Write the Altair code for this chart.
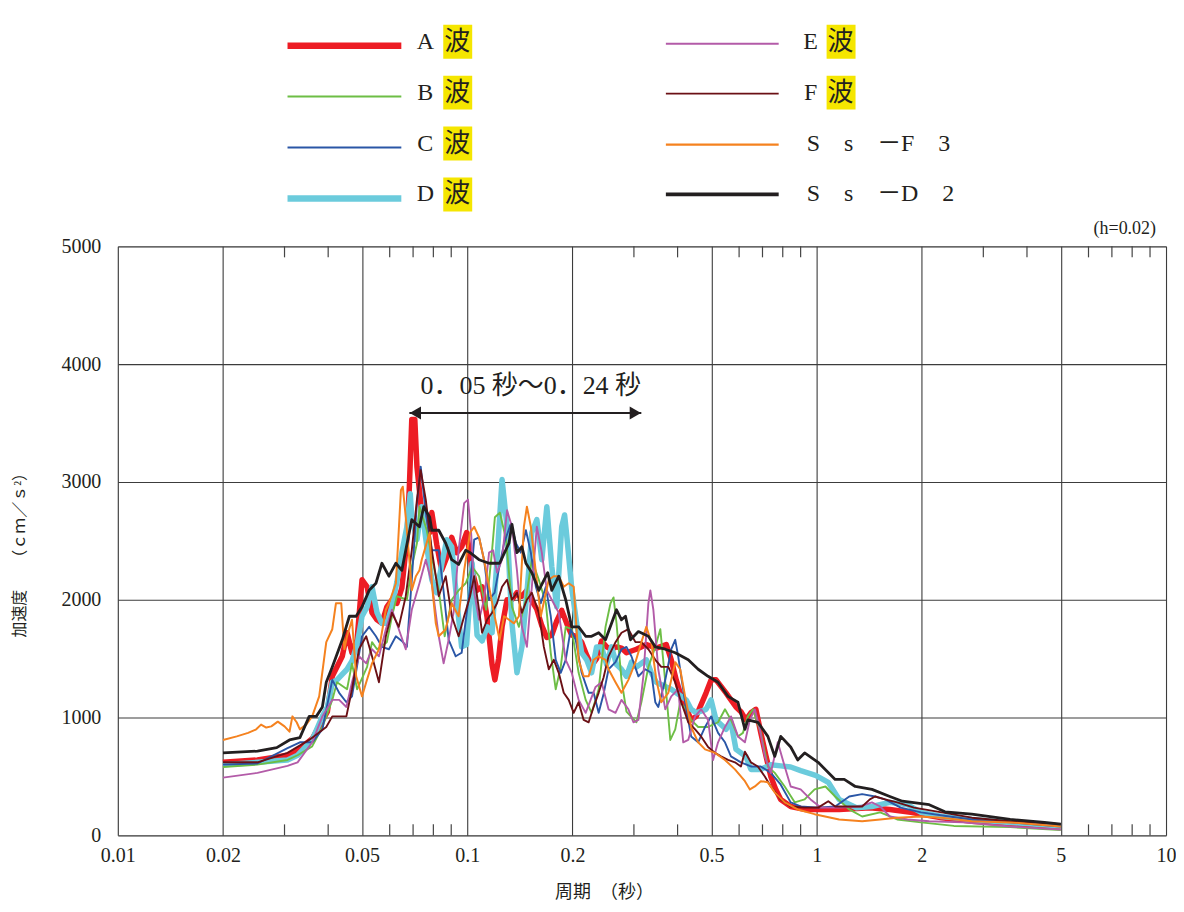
import altair as alt
import pandas as pd

# ---------------- data: (period [s], acceleration [cm/s^2]) ----------------
A_WAVE = [(0.0200,620),(0.0251,640),(0.0306,680),(0.0327,720),(0.0360,820),(0.0398,1050),(0.0411,1350),(0.0439,1520),(0.0453,1720),(0.0468,1550),(0.0484,1660),(0.0500,2170),(0.0517,2110),(0.0534,1890),(0.0552,1830),(0.0570,1800),(0.0589,1940),(0.0609,2000),(0.0629,1970),(0.0650,2100),(0.0672,2510),(0.0683,2960),(0.0694,3530),(0.0708,3530),(0.0718,3130),(0.0741,2740),(0.0766,2620),(0.0781,2570),(0.0792,2740),(0.0818,2470),(0.0845,2250),(0.0874,2360),(0.0903,2530),(0.0933,2400),(0.0964,2450),(0.0996,2570),(0.1033,2250),(0.1067,2080),(0.1103,2110),(0.1140,1850),(0.1178,1450),(0.1200,1320),(0.1230,1500),(0.1258,1770),(0.1300,2000),(0.1343,2000),(0.1388,2060),(0.1434,2030),(0.1482,2080),(0.1531,1990),(0.1582,1920),(0.1635,1780),(0.1690,1680),(0.1746,1700),(0.1804,1820),(0.1864,1910),(0.1926,1800),(0.1991,1700),(0.2057,1690),(0.2126,1640),(0.2197,1530),(0.2270,1440),(0.2346,1500),(0.2424,1650),(0.2505,1600),(0.2588,1580),(0.2675,1600),(0.2764,1590),(0.2856,1550),(0.3050,1580),(0.3256,1620),(0.3477,1590),(0.3713,1620),(0.3837,1490),(0.3964,1320),(0.4097,1180),(0.4374,980),(0.4520,1010),(0.4827,1210),(0.4988,1320),(0.5154,1320),(0.5504,1210),(0.5687,1150),(0.5877,1090),(0.6073,1050),(0.6275,980),(0.6485,1040),(0.6701,1070),(0.6924,870),(0.7155,680),(0.7394,500),(0.7640,390),(0.7895,305),(0.8430,245),(0.9302,220),(1.01,220),(1.16,220),(1.42,235),(1.62,220),(1.86,195),(2.28,150),(2.79,120),(3.66,95),(5.0,70)]

B_WAVE = [(0.0200,580),(0.0251,600),(0.0306,640),(0.0327,680),(0.0360,755),(0.0385,920),(0.0411,1150),(0.0424,1300),(0.0453,1240),(0.0468,1460),(0.0484,1240),(0.0517,1430),(0.0534,1640),(0.0552,1580),(0.0589,1640),(0.0609,1860),(0.0629,2030),(0.0672,2000),(0.0694,2280),(0.0718,2480),(0.0730,2790),(0.0766,2590),(0.0792,2360),(0.0829,2080),(0.0862,1690),(0.0903,2000),(0.0945,2080),(0.0990,2140),(0.1033,2280),(0.1081,2200),(0.1133,1915),(0.1178,2420),(0.1200,2700),(0.1240,2740),(0.1292,2510),(0.1343,1940),(0.1406,1770),(0.1472,2000),(0.1531,2340),(0.1603,2170),(0.1679,1970),(0.1734,1550),(0.1792,1240),(0.1852,1430),(0.1914,1770),(0.1991,1750),(0.2084,1380),(0.2183,1150),(0.2270,1040),(0.2378,1240),(0.2488,1770),(0.2571,1970),(0.2623,2020),(0.2675,1800),(0.2764,1320),(0.2856,1050),(0.3050,960),(0.3151,1130),(0.3300,1430),(0.3454,1600),(0.3570,1750),(0.3689,1300),(0.3813,810),(0.3939,900),(0.4070,1130),(0.4233,1070),(0.4374,980),(0.4581,920),(0.4891,920),(0.5223,960),(0.5467,1070),(0.5687,980),(0.5955,840),(0.6154,870),(0.6359,1010),(0.6572,1070),(0.6924,870),(0.7252,585),(0.7590,530),(0.8103,415),(0.8654,280),(0.9241,305),(0.9869,390),(1.06,415),(1.13,330),(1.24,220),(1.35,160),(1.52,195),(1.70,135),(1.99,110),(2.47,80),(3.58,70),(5.0,45)]

C_WAVE = [(0.0200,600),(0.0251,610),(0.0306,740),(0.0332,790),(0.0360,790),(0.0385,900),(0.0411,1320),(0.0430,1210),(0.0451,1130),(0.0468,1180),(0.0500,1690),(0.0524,1770),(0.0548,1690),(0.0570,1600),(0.0597,1580),(0.0625,1690),(0.0650,1650),(0.0672,1600),(0.0694,2170),(0.0718,2820),(0.0736,3130),(0.0761,2740),(0.0792,2420),(0.0829,2420),(0.0856,2070),(0.0885,1660),(0.0927,1520),(0.0964,1550),(0.0980,1720),(0.1019,2100),(0.1047,2510),(0.1081,2530),(0.1117,2340),(0.1155,2000),(0.1198,2060),(0.1230,2250),(0.1275,2480),(0.1334,2650),(0.1379,2480),(0.1424,2400),(0.1472,2590),(0.1521,2400),(0.1572,2110),(0.1624,1970),(0.1679,2110),(0.1734,1860),(0.1792,1490),(0.1852,1380),(0.1914,1490),(0.1978,1750),(0.2044,1660),(0.2126,1380),(0.2226,1210),(0.2300,1210),(0.2378,1040),(0.2456,1200),(0.2538,1410),(0.2657,1470),(0.2764,1580),(0.2856,1600),(0.2951,1520),(0.3090,1350),(0.3234,1410),(0.3365,1380),(0.3454,1130),(0.3522,1090),(0.3689,1320),(0.3837,1580),(0.3939,1660),(0.4016,1520),(0.4204,1130),(0.4374,840),(0.4581,790),(0.4795,920),(0.4988,1010),(0.5223,870),(0.5467,790),(0.5687,670),(0.6073,620),(0.6485,585),(0.6924,585),(0.7394,530),(0.7895,430),(0.8430,280),(0.9002,245),(1.01,235),(1.13,245),(1.24,330),(1.35,350),(1.47,330),(1.57,305),(1.74,235),(1.99,195),(2.40,160),(2.78,135),(3.58,110),(5.0,75)]

D_WAVE = [(0.0200,600),(0.0251,620),(0.0306,640),(0.0327,680),(0.0360,810),(0.0385,1010),(0.0398,1090),(0.0411,1300),(0.0424,1320),(0.0453,1410),(0.0468,1480),(0.0484,1620),(0.0500,1860),(0.0517,1940),(0.0534,2110),(0.0552,1890),(0.0570,1800),(0.0589,1800),(0.0609,1940),(0.0629,2150),(0.0650,2400),(0.0672,2620),(0.0687,2900),(0.0694,2700),(0.0718,2510),(0.0741,2790),(0.0766,2450),(0.0792,2170),(0.0818,2060),(0.0845,2300),(0.0874,2510),(0.0903,2450),(0.0933,2000),(0.0964,1600),(0.0996,1620),(0.1033,2310),(0.1067,1700),(0.1103,1650),(0.1140,1770),(0.1178,1720),(0.1217,2340),(0.1258,3020),(0.1300,2620),(0.1343,1800),(0.1388,1380),(0.1434,1600),(0.1482,2060),(0.1531,2570),(0.1582,2680),(0.1635,2340),(0.1690,2790),(0.1746,2280),(0.1804,1940),(0.1864,2620),(0.1900,2720),(0.1926,2550),(0.1991,2100),(0.2057,1800),(0.2126,1550),(0.2197,1490),(0.2270,1380),(0.2346,1600),(0.2424,1600),(0.2505,1450),(0.2588,1600),(0.2675,1450),(0.2764,1410),(0.2856,1350),(0.2951,1470),(0.3050,1430),(0.3256,1490),(0.3365,1380),(0.3477,1300),(0.3713,1260),(0.3837,1240),(0.3964,1210),(0.4233,1150),(0.4374,1070),(0.4520,1040),(0.4827,1070),(0.4988,1150),(0.5154,980),(0.5504,900),(0.5687,960),(0.5877,730),(0.6275,670),(0.6485,560),(0.6924,560),(0.7394,600),(0.7895,590),(0.8430,580),(0.9002,550),(0.9933,510),(1.08,450),(1.16,305),(1.30,235),(1.44,245),(1.62,280),(1.82,260),(1.99,195),(2.28,160),(2.79,135),(3.58,110),(5.0,80)]

E_WAVE = [(0.0200,490),(0.0251,530),(0.0306,590),(0.0327,620),(0.0360,790),(0.0385,1010),(0.0411,1150),(0.0430,1150),(0.0451,1090),(0.0468,1300),(0.0490,1520),(0.0514,1460),(0.0534,1580),(0.0559,1520),(0.0585,1750),(0.0609,1915),(0.0637,1750),(0.0667,1580),(0.0694,1915),(0.0730,2140),(0.0761,2340),(0.0792,2140),(0.0829,1690),(0.0856,1460),(0.0885,1660),(0.0915,1900),(0.0945,2420),(0.0980,2820),(0.1005,2850),(0.1026,2570),(0.1047,2060),(0.1081,1830),(0.1117,2000),(0.1155,2400),(0.1186,2420),(0.1217,2230),(0.1258,2340),(0.1300,2760),(0.1343,2620),(0.1388,2250),(0.1434,1770),(0.1482,1600),(0.1531,2110),(0.1582,2620),(0.1635,2400),(0.1690,2080),(0.1746,2000),(0.1828,1890),(0.1914,1490),(0.1991,1380),(0.2084,1150),(0.2183,1040),(0.2255,1150),(0.2330,1260),(0.2424,1300),(0.2538,1070),(0.2657,1040),(0.2764,1150),(0.2893,1070),(0.2990,960),(0.3090,980),(0.3192,1350),(0.3300,1970),(0.3343,2080),(0.3410,1915),(0.3522,1410),(0.3689,1070),(0.3837,1180),(0.4016,1240),(0.4152,790),(0.4291,810),(0.4490,1010),(0.4671,1070),(0.4891,980),(0.5054,640),(0.5223,790),(0.5467,920),(0.5687,1010),(0.5955,840),(0.6235,790),(0.6442,980),(0.6657,1070),(0.6879,900),(0.7109,670),(0.7394,530),(0.7741,790),(0.8103,585),(0.8430,415),(0.9002,390),(0.9612,305),(1.03,235),(1.16,235),(1.33,245),(1.44,280),(1.52,245),(1.62,160),(1.82,135),(2.10,120),(2.62,110),(3.58,75),(5.0,50)]

F_WAVE = [(0.0200,620),(0.0251,620),(0.0306,700),(0.0353,810),(0.0395,920),(0.0411,1010),(0.0451,1010),(0.0468,1240),(0.0490,1580),(0.0514,1690),(0.0534,1520),(0.0559,1300),(0.0585,1690),(0.0609,1890),(0.0637,1770),(0.0667,2030),(0.0694,2420),(0.0718,2850),(0.0736,3100),(0.0761,2850),(0.0792,2420),(0.0813,2200),(0.0829,2030),(0.0868,2200),(0.0903,1860),(0.0945,1690),(0.0980,1860),(0.1019,2030),(0.1047,2200),(0.1081,1915),(0.1103,1720),(0.1140,1830),(0.1178,1890),(0.1217,1970),(0.1258,2110),(0.1300,2170),(0.1343,2000),(0.1388,2060),(0.1434,1890),(0.1482,2000),(0.1531,2060),(0.1603,1890),(0.1657,1600),(0.1712,1410),(0.1769,1490),(0.1828,1380),(0.1889,1210),(0.1952,1150),(0.2017,1040),(0.2084,1130),(0.2154,980),(0.2226,960),(0.2300,1090),(0.2378,1210),(0.2456,1340),(0.2538,1520),(0.2657,1640),(0.2764,1720),(0.2893,1750),(0.3030,1640),(0.3151,1640),(0.3300,1580),(0.3454,1490),(0.3593,1430),(0.3763,1430),(0.3939,1300),(0.4097,1130),(0.4291,960),(0.4490,900),(0.4671,840),(0.4891,750),(0.5120,700),(0.5326,670),(0.5577,640),(0.5838,620),(0.6073,585),(0.6235,710),(0.6485,620),(0.6789,585),(0.7109,500),(0.7394,415),(0.7895,305),(0.8430,245),(0.9241,235),(1.01,235),(1.08,290),(1.13,245),(1.35,245),(1.42,305),(1.47,330),(1.57,305),(1.70,280),(1.90,235),(2.28,195),(2.78,150),(3.58,120),(5.0,95)]

SS_F3 = [(0.0200,810),(0.0219,840),(0.0236,870),(0.0249,900),(0.0257,940),(0.0266,915),(0.0275,925),(0.0287,965),(0.0300,925),(0.0310,880),(0.0316,1010),(0.0325,960),(0.0332,900),(0.0346,940),(0.0360,1010),(0.0377,1180),(0.0395,1640),(0.0411,1750),(0.0421,1970),(0.0436,1970),(0.0445,1580),(0.0453,1690),(0.0468,1830),(0.0481,1350),(0.0500,1180),(0.0514,1300),(0.0534,1460),(0.0559,1580),(0.0585,1915),(0.0597,1970),(0.0625,2140),(0.0637,2590),(0.0646,2930),(0.0654,2960),(0.0667,2700),(0.0683,2340),(0.0694,2080),(0.0713,2200),(0.0730,2250),(0.0741,2340),(0.0781,2570),(0.0792,2140),(0.0813,1800),(0.0829,1690),(0.0868,1750),(0.0903,1970),(0.0945,1860),(0.0980,2250),(0.1019,2570),(0.1047,2620),(0.1081,2530),(0.1117,2340),(0.1155,2110),(0.1198,1860),(0.1238,1660),(0.1275,1860),(0.1317,1830),(0.1361,1800),(0.1406,1860),(0.1453,2620),(0.1482,2790),(0.1521,2620),(0.1572,2230),(0.1624,1860),(0.1679,2060),(0.1712,2170),(0.1769,2200),(0.1828,2200),(0.1889,2110),(0.1952,2140),(0.2017,2110),(0.2084,1490),(0.2154,1350),(0.2226,1350),(0.2300,1490),(0.2378,1520),(0.2488,1490),(0.2538,1410),(0.2657,1300),(0.2764,1210),(0.2893,1320),(0.3030,1470),(0.3151,1640),(0.3256,1770),(0.3365,1640),(0.3477,1320),(0.3593,1130),(0.3763,1210),(0.3939,1470),(0.4070,1410),(0.4204,1180),(0.4374,920),(0.4581,790),(0.4795,730),(0.5120,700),(0.5467,640),(0.5838,560),(0.6235,460),(0.6442,390),(0.6657,415),(0.6924,460),(0.7252,450),(0.7590,365),(0.8103,280),(0.8826,220),(0.9869,180),(1.16,135),(1.35,120),(1.52,135),(1.70,150),(1.99,160),(2.28,150),(2.78,120),(3.58,110),(5.0,75)]

SS_D2 = [(0.0200,700),(0.0251,715),(0.0285,745),(0.0310,810),(0.0332,830),(0.0353,1010),(0.0370,1010),(0.0385,1090),(0.0395,1300),(0.0411,1430),(0.0439,1660),(0.0460,1860),(0.0481,1860),(0.0500,1940),(0.0524,2080),(0.0548,2140),(0.0570,2310),(0.0597,2200),(0.0625,2310),(0.0650,2250),(0.0667,2420),(0.0694,2680),(0.0730,2620),(0.0751,2790),(0.0781,2700),(0.0792,2590),(0.0829,2590),(0.0868,2480),(0.0903,2340),(0.0945,2300),(0.0990,2420),(0.1019,2400),(0.1081,2340),(0.1155,2310),(0.1238,2310),(0.1317,2480),(0.1343,2640),(0.1388,2400),(0.1434,2450),(0.1472,2310),(0.1531,2230),(0.1603,2080),(0.1700,2230),(0.1746,2080),(0.1828,2200),(0.1914,2000),(0.1991,1770),(0.2084,1770),(0.2183,1690),(0.2270,1690),(0.2378,1720),(0.2488,1660),(0.2538,1730),(0.2675,1915),(0.2764,1830),(0.2838,1860),(0.2932,1660),(0.3090,1730),(0.3300,1690),(0.3454,1600),(0.3689,1580),(0.3939,1550),(0.4291,1490),(0.4581,1410),(0.4891,1350),(0.5223,1300),(0.5577,1180),(0.5955,1130),(0.6235,900),(0.6359,980),(0.6789,960),(0.7252,840),(0.7590,670),(0.7895,840),(0.8430,750),(0.8826,640),(0.9241,700),(1.01,620),(1.13,475),(1.20,475),(1.29,415),(1.44,390),(1.62,330),(1.76,290),(2.10,260),(2.33,200),(2.78,180),(3.58,135),(4.49,110),(5.0,95)]

SERIES_LETTERS = ["A", "B", "C", "D", "E", "F", "S\u2003s\u2003－F\u20033", "S\u2003s\u2003－D\u20032"]
SERIES_DATA = [A_WAVE, B_WAVE, C_WAVE, D_WAVE, E_WAVE, F_WAVE, SS_F3, SS_D2]
SERIES_COLORS = ["#ED1C24", "#6DBE45", "#2A56A6", "#6BCBDC", "#B35BA8", "#6B1015", "#F5821F", "#231F20"]
SERIES_WIDTHS = [5.5, 1.9, 1.9, 5.5, 1.9, 1.9, 2.0, 2.8]
LEGEND_WIDTHS = [6.5, 2.0, 2.0, 6.5, 2.0, 2.0, 2.2, 3.8]
DRAW_ORDER = [0, 3, 1, 2, 4, 5, 6, 7]

X_LABELS = [0.01, 0.02, 0.05, 0.1, 0.2, 0.5, 1, 2, 5, 10]
X_MINOR = [0.03, 0.04, 0.06, 0.07, 0.08, 0.09, 0.3, 0.4, 0.6, 0.7, 0.8, 0.9, 3, 4, 6, 7, 8, 9]
Y_LABELS = [0, 1000, 2000, 3000, 4000, 5000]
ARROW_PERIOD = [0.0683, 0.315]
ARROW_ACCEL = 3585
NOTE_PERIOD = 0.152
NOTE_ACCEL = 3814

FONT = "Liberation Serif, Noto Sans CJK JP"
INK = "#231F20"

XSCALE = alt.Scale(type="log", domain=[0.01, 10], nice=False)
YSCALE = alt.Scale(domain=[0, 5000], nice=False)
XAXIS = alt.Axis(values=X_LABELS, format="~g", grid=True, ticks=False, domain=False,
                 labelFont=FONT, labelFontSize=20, labelColor=INK, labelPadding=10,
                 labelFlush=False, labelOverlap=False,
                 title="周期　（秒）", titleFont=FONT, titleFontSize=18, titleFontWeight="normal",
                 titleColor=INK, titleX=487, titleY=57, titleBaseline="middle", titleAlign="center",
                 gridColor="#3c3c3c", gridWidth=1.1, gridOpacity=1)
YAXIS = alt.Axis(values=Y_LABELS, format="d", grid=True, ticks=False, domain=False,
                 labelFont=FONT, labelFontSize=20, labelColor=INK, labelPadding=17,
                 labelOverlap=False,
                 title="加速度　　（ｃｍ／ｓ²）", titleFont=FONT, titleFontSize=16, titleFontWeight="normal",
                 titleColor=INK, titleAngle=270, titleX=-98, titleY=305,
                 titleAlign="center", titleBaseline="middle",
                 gridColor="#3c3c3c", gridWidth=1.1, gridOpacity=1)


def xenc(field):
    return alt.X(f"{field}:Q", scale=XSCALE, axis=XAXIS)


def yenc(field):
    return alt.Y(f"{field}:Q", scale=YSCALE, axis=YAXIS)


one = pd.DataFrame({"k": [0]})
layers = []

# minor ticks (inward, bottom and top)
minor_df = pd.DataFrame({"t": X_MINOR})
layers.append(alt.Chart(minor_df).mark_rule(color="#444", strokeWidth=1.2).encode(
    x=xenc("t"), y=alt.value(590), y2=alt.value(579)))
layers.append(alt.Chart(minor_df).mark_rule(color="#444", strokeWidth=1.2).encode(
    x=xenc("t"), y=alt.value(0), y2=alt.value(11)))

# spectra
for i in DRAW_ORDER:
    d = pd.DataFrame(SERIES_DATA[i], columns=["period", "accel"])
    d["o"] = range(len(d))
    layers.append(alt.Chart(d).mark_line(color=SERIES_COLORS[i], strokeWidth=SERIES_WIDTHS[i],
                                         strokeJoin="round", clip=True).encode(
        x=xenc("period"), y=yenc("accel"), order="o:Q"))

# annotation arrow and text
arrow_df = pd.DataFrame({"period": ARROW_PERIOD, "accel": [ARROW_ACCEL, ARROW_ACCEL]})
layers.append(alt.Chart(arrow_df).mark_line(color=INK, strokeWidth=2).encode(
    x=xenc("period"), y=yenc("accel")))
layers.append(alt.Chart(arrow_df.iloc[[0]]).mark_point(shape="triangle-left", filled=True, opacity=1,
                                                      size=170, color=INK, xOffset=6).encode(
    x=xenc("period"), y=yenc("accel")))
layers.append(alt.Chart(arrow_df.iloc[[1]]).mark_point(shape="triangle-right", filled=True, opacity=1,
                                                      size=170, color=INK, xOffset=-6).encode(
    x=xenc("period"), y=yenc("accel")))
note_df = pd.DataFrame({"period": [NOTE_PERIOD], "accel": [NOTE_ACCEL]})
layers.append(alt.Chart(note_df).mark_text(text="0．05 秒～0．24 秒", font=FONT, fontSize=26,
                                           color=INK, align="center", baseline="middle").encode(
    x=xenc("period"), y=yenc("accel")))

# damping note
layers.append(alt.Chart(one).mark_text(text="(h=0.02)", font=FONT, fontSize=18, color=INK,
                                       align="right", baseline="middle").encode(
    x=alt.value(1040), y=alt.value(-17)))

# custom legend
LINE_X = [(170, 284), (549, 662)]
LINE_Y = [[-201, -150, -99, -48], [-203, -153, -102, -52]]
TEXT_Y = [[-205, -154, -103, -52], [-205, -154, -103, -52]]
LETTER_X = [308, 694]
HA_X = [340, 724]
for i in range(8):
    col, row = i // 4, i % 4
    layers.append(alt.Chart(one).mark_rule(color=SERIES_COLORS[i], strokeWidth=LEGEND_WIDTHS[i]).encode(
        x=alt.value(LINE_X[col][0]), x2=alt.value(LINE_X[col][1]), y=alt.value(LINE_Y[col][row])))
    ty = TEXT_Y[col][row]
    if i < 6:
        layers.append(alt.Chart(one).mark_rect(color="#F5E600").encode(
            x=alt.value(HA_X[col] - 14), x2=alt.value(HA_X[col] + 15),
            y=alt.value(ty - 17), y2=alt.value(ty + 17)))
        layers.append(alt.Chart(one).mark_text(text=SERIES_LETTERS[i], font=FONT, fontSize=24,
                                               color=INK, align="center", baseline="middle").encode(
            x=alt.value(LETTER_X[col]), y=alt.value(ty)))
        layers.append(alt.Chart(one).mark_text(text="波", font=FONT, fontSize=26,
                                               color=INK, align="center", baseline="middle").encode(
            x=alt.value(HA_X[col]), y=alt.value(ty)))
    else:
        layers.append(alt.Chart(one).mark_text(text=SERIES_LETTERS[i],
                                               font=FONT, fontSize=24, color=INK,
                                               align="left", baseline="middle").encode(
            x=alt.value(690), y=alt.value(ty)))

chart = alt.layer(*layers).properties(
    width=1050, height=590,
    autosize=alt.AutoSizeParams(type="none"),
    padding={"left": 110, "top": 238, "right": 10, "bottom": 72},
).configure_view(stroke="#1a1a1a", strokeWidth=2.5).configure(background="white")

chart.save("out.html", embed_options={"renderer": "svg", "actions": False})
